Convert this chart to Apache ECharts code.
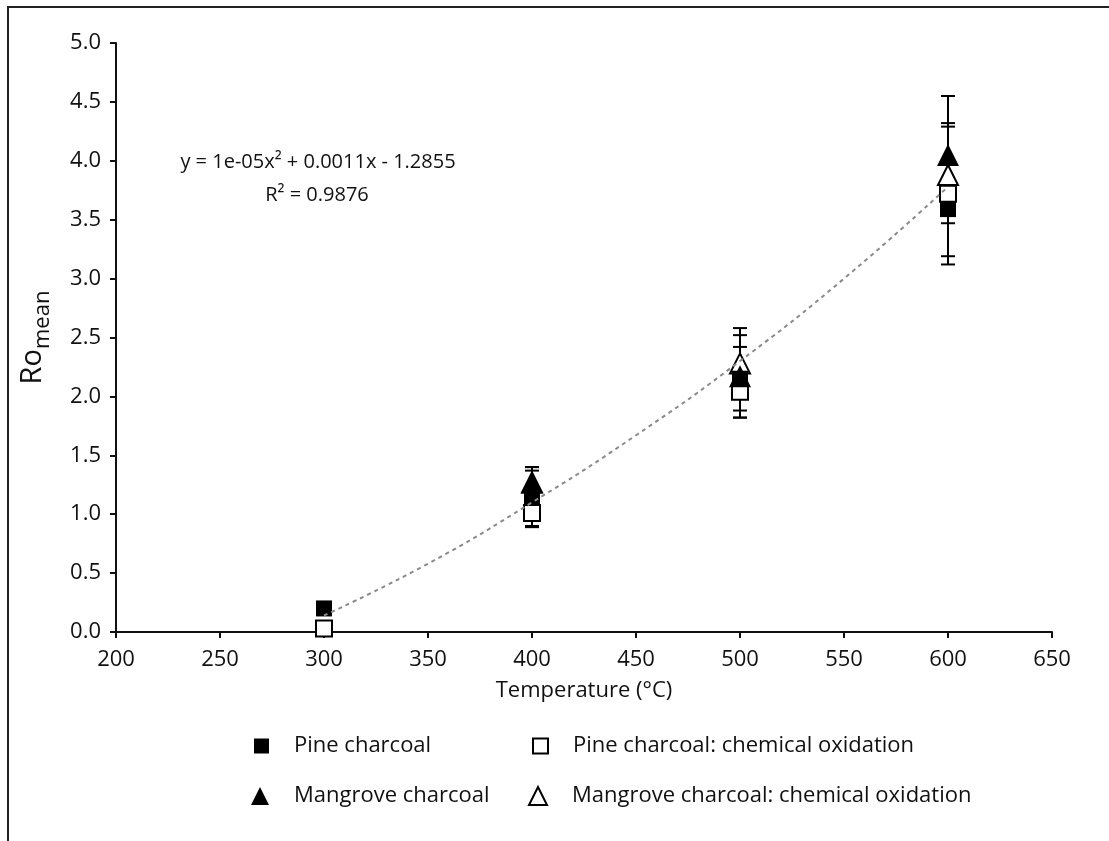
<!DOCTYPE html>
<html>
<head>
<meta charset="utf-8">
<title>Ro mean vs temperature</title>
<script src="https://cdn.jsdelivr.net/npm/echarts@6/dist/echarts.min.js"></script>
<style>
  html, body { margin: 0; padding: 0; background: #fff; }
  #main { width: 1109px; height: 841px; }
</style>
</head>
<body>
<div id="main"></div>
<script>
// values
const temps = [300, 400, 500, 600]
const pineMean = [0.20, 1.15, 2.15, 3.59]
const pineErr = [0.02, 0.25, 0.27, 0.40]
const pineOxMean = [0.03, 1.01, 2.04, 3.72]
const pineOxErr = [0.02, 0.12, 0.22, 0.60]
const mangroveMean = [null, 1.27, 2.17, 4.05]
const mangroveErr = [null, 0.13, 0.35, 0.50]
const mangroveOxMean = [null, 1.27, 2.28, 3.88]
const mangroveOxErr = [null, 0.10, 0.30, 0.41]

// dotted trend curve, read at these temperatures
const trendX = [300, 350, 400, 450, 500, 550, 600]
const trendY = [0.14, 0.58, 1.10, 1.67, 2.30, 3.00, 3.78]

const xTicks = [200, 250, 300, 350, 400, 450, 500, 550, 600, 650]
const yTicks = [0, 0.5, 1, 1.5, 2, 2.5, 3, 3.5, 4, 4.5, 5]

const eqLine1 = 'y = 1e-05x² + 0.0011x - 1.2855'
const eqLine2 = 'R² = 0.9876'

const FONT = 'Open Sans'

function pts(means) {
  const out = []
  temps.forEach((t, i) => {
    if (means[i] != null) out.push([t, means[i]])
  })
  return out
}

function bars(means, errs) {
  const out = []
  temps.forEach((t, i) => {
    if (means[i] != null) out.push([t, means[i] - errs[i], means[i] + errs[i]])
  })
  return out
}

const errData = []
  .concat(bars(pineMean, pineErr))
  .concat(bars(pineOxMean, pineOxErr))
  .concat(bars(mangroveMean, mangroveErr))
  .concat(bars(mangroveOxMean, mangroveOxErr))

function renderErr(params, api) {
  const lo = api.coord([api.value(0), api.value(1)])
  const hi = api.coord([api.value(0), api.value(2)])
  const half = 7
  const style = { stroke: '#000', lineWidth: 2 }
  return {
    type: 'group',
    children: [
      { type: 'line', shape: { x1: lo[0], y1: lo[1], x2: hi[0], y2: hi[1] }, style: style },
      { type: 'line', shape: { x1: hi[0] - half, y1: hi[1], x2: hi[0] + half, y2: hi[1] }, style: style },
      { type: 'line', shape: { x1: lo[0] - half, y1: lo[1], x2: lo[0] + half, y2: lo[1] }, style: style }
    ]
  }
}

function legendAt(name, left, top, w, h) {
  return {
    data: [name],
    left: left,
    top: top,
    padding: 0,
    itemWidth: w,
    itemHeight: h,
    selectedMode: false,
    textStyle: { fontFamily: FONT, fontSize: 22, color: '#111', padding: [0, 0, 0, 20] }
  }
}

const chart = echarts.init(document.getElementById('main'))
const option = {
  animation: false,
  backgroundColor: '#fff',
  grid: { left: 116, right: 57, top: 43, bottom: 209, containLabel: false },
  legend: [
    legendAt('Pine charcoal', 254, 735, 15, 15),
    legendAt('Pine charcoal: chemical oxidation', 532, 735, 15, 15),
    legendAt('Mangrove charcoal', 251, 785, 18, 18),
    legendAt('Mangrove charcoal: chemical oxidation', 528, 785, 18, 18)
  ],
  xAxis: {
    type: 'value',
    min: xTicks[0],
    max: xTicks[xTicks.length - 1],
    interval: 50,
    name: 'Temperature (°C)',
    nameLocation: 'middle',
    nameGap: 48,
    nameTextStyle: { fontFamily: FONT, fontSize: 22, color: '#111' },
    axisLine: { lineStyle: { color: '#111', width: 2 } },
    axisTick: { show: true, length: 6, lineStyle: { color: '#111', width: 2 } },
    axisLabel: { margin: 17, fontFamily: FONT, fontSize: 22, color: '#111' },
    splitLine: { show: false }
  },
  yAxis: {
    type: 'value',
    min: yTicks[0],
    max: yTicks[yTicks.length - 1],
    interval: 0.5,
    name: '{r|Ro}{s|mean}',
    nameLocation: 'middle',
    nameRotate: 90,
    nameGap: 62,
    nameTextStyle: {
      rich: {
        r: { fontFamily: FONT, fontSize: 29, color: '#111', verticalAlign: 'top' },
        s: { fontFamily: FONT, fontSize: 22, color: '#111', verticalAlign: 'top', padding: [14, 0, 0, 0] }
      }
    },
    axisLine: { show: true, lineStyle: { color: '#111', width: 2 } },
    axisTick: { show: true, length: 6, lineStyle: { color: '#111', width: 2 } },
    axisLabel: {
      margin: 15,
      fontFamily: FONT,
      fontSize: 22,
      color: '#111',
      formatter: v => v.toFixed(1)
    },
    splitLine: { show: false }
  },
  graphic: [
    // frame of the figure (top and left edges show)
    {
      type: 'rect',
      shape: { x: 8, y: 7, width: 1300, height: 1000 },
      style: { fill: 'none', stroke: '#222', lineWidth: 2 },
      silent: true
    },
    {
      type: 'text',
      x: 318,
      y: 162,
      style: { text: eqLine1, fontFamily: FONT, fontSize: 20, fill: '#111', align: 'center', verticalAlign: 'middle' }
    },
    {
      type: 'text',
      x: 317,
      y: 195,
      style: { text: eqLine2, fontFamily: FONT, fontSize: 20, fill: '#111', align: 'center', verticalAlign: 'middle' }
    }
  ],
  series: [
    {
      name: 'errors',
      type: 'custom',
      renderItem: renderErr,
      data: errData,
      encode: { x: 0, y: [1, 2] },
      z: 1,
      silent: true
    },
    {
      name: 'Mangrove charcoal: chemical oxidation',
      type: 'scatter',
      symbol: 'triangle',
      symbolSize: [20, 20],
      data: pts(mangroveOxMean),
      itemStyle: { color: '#fff', borderColor: '#000', borderWidth: 2, opacity: 1 },
      z: 2
    },
    {
      name: 'Pine charcoal',
      type: 'scatter',
      symbol: 'rect',
      symbolSize: 16,
      data: pts(pineMean),
      itemStyle: { color: '#000', opacity: 1 },
      z: 3
    },
    {
      name: 'Pine charcoal: chemical oxidation',
      type: 'scatter',
      symbol: 'rect',
      symbolSize: 16,
      data: pts(pineOxMean),
      itemStyle: { color: '#fff', borderColor: '#000', borderWidth: 2, opacity: 1 },
      z: 4
    },
    {
      name: 'Mangrove charcoal',
      type: 'scatter',
      symbol: 'triangle',
      symbolSize: [22, 22],
      data: pts(mangroveMean),
      itemStyle: { color: '#000', opacity: 1 },
      z: 5
    },
    {
      name: 'trend',
      type: 'line',
      smooth: true,
      showSymbol: false,
      data: trendX.map((t, i) => [t, trendY[i]]),
      lineStyle: { color: '#8a8a8a', width: 2, type: [4, 4] },
      z: 6,
      silent: true
    }
  ]
}
chart.setOption(option)
</script>
</body>
</html>
